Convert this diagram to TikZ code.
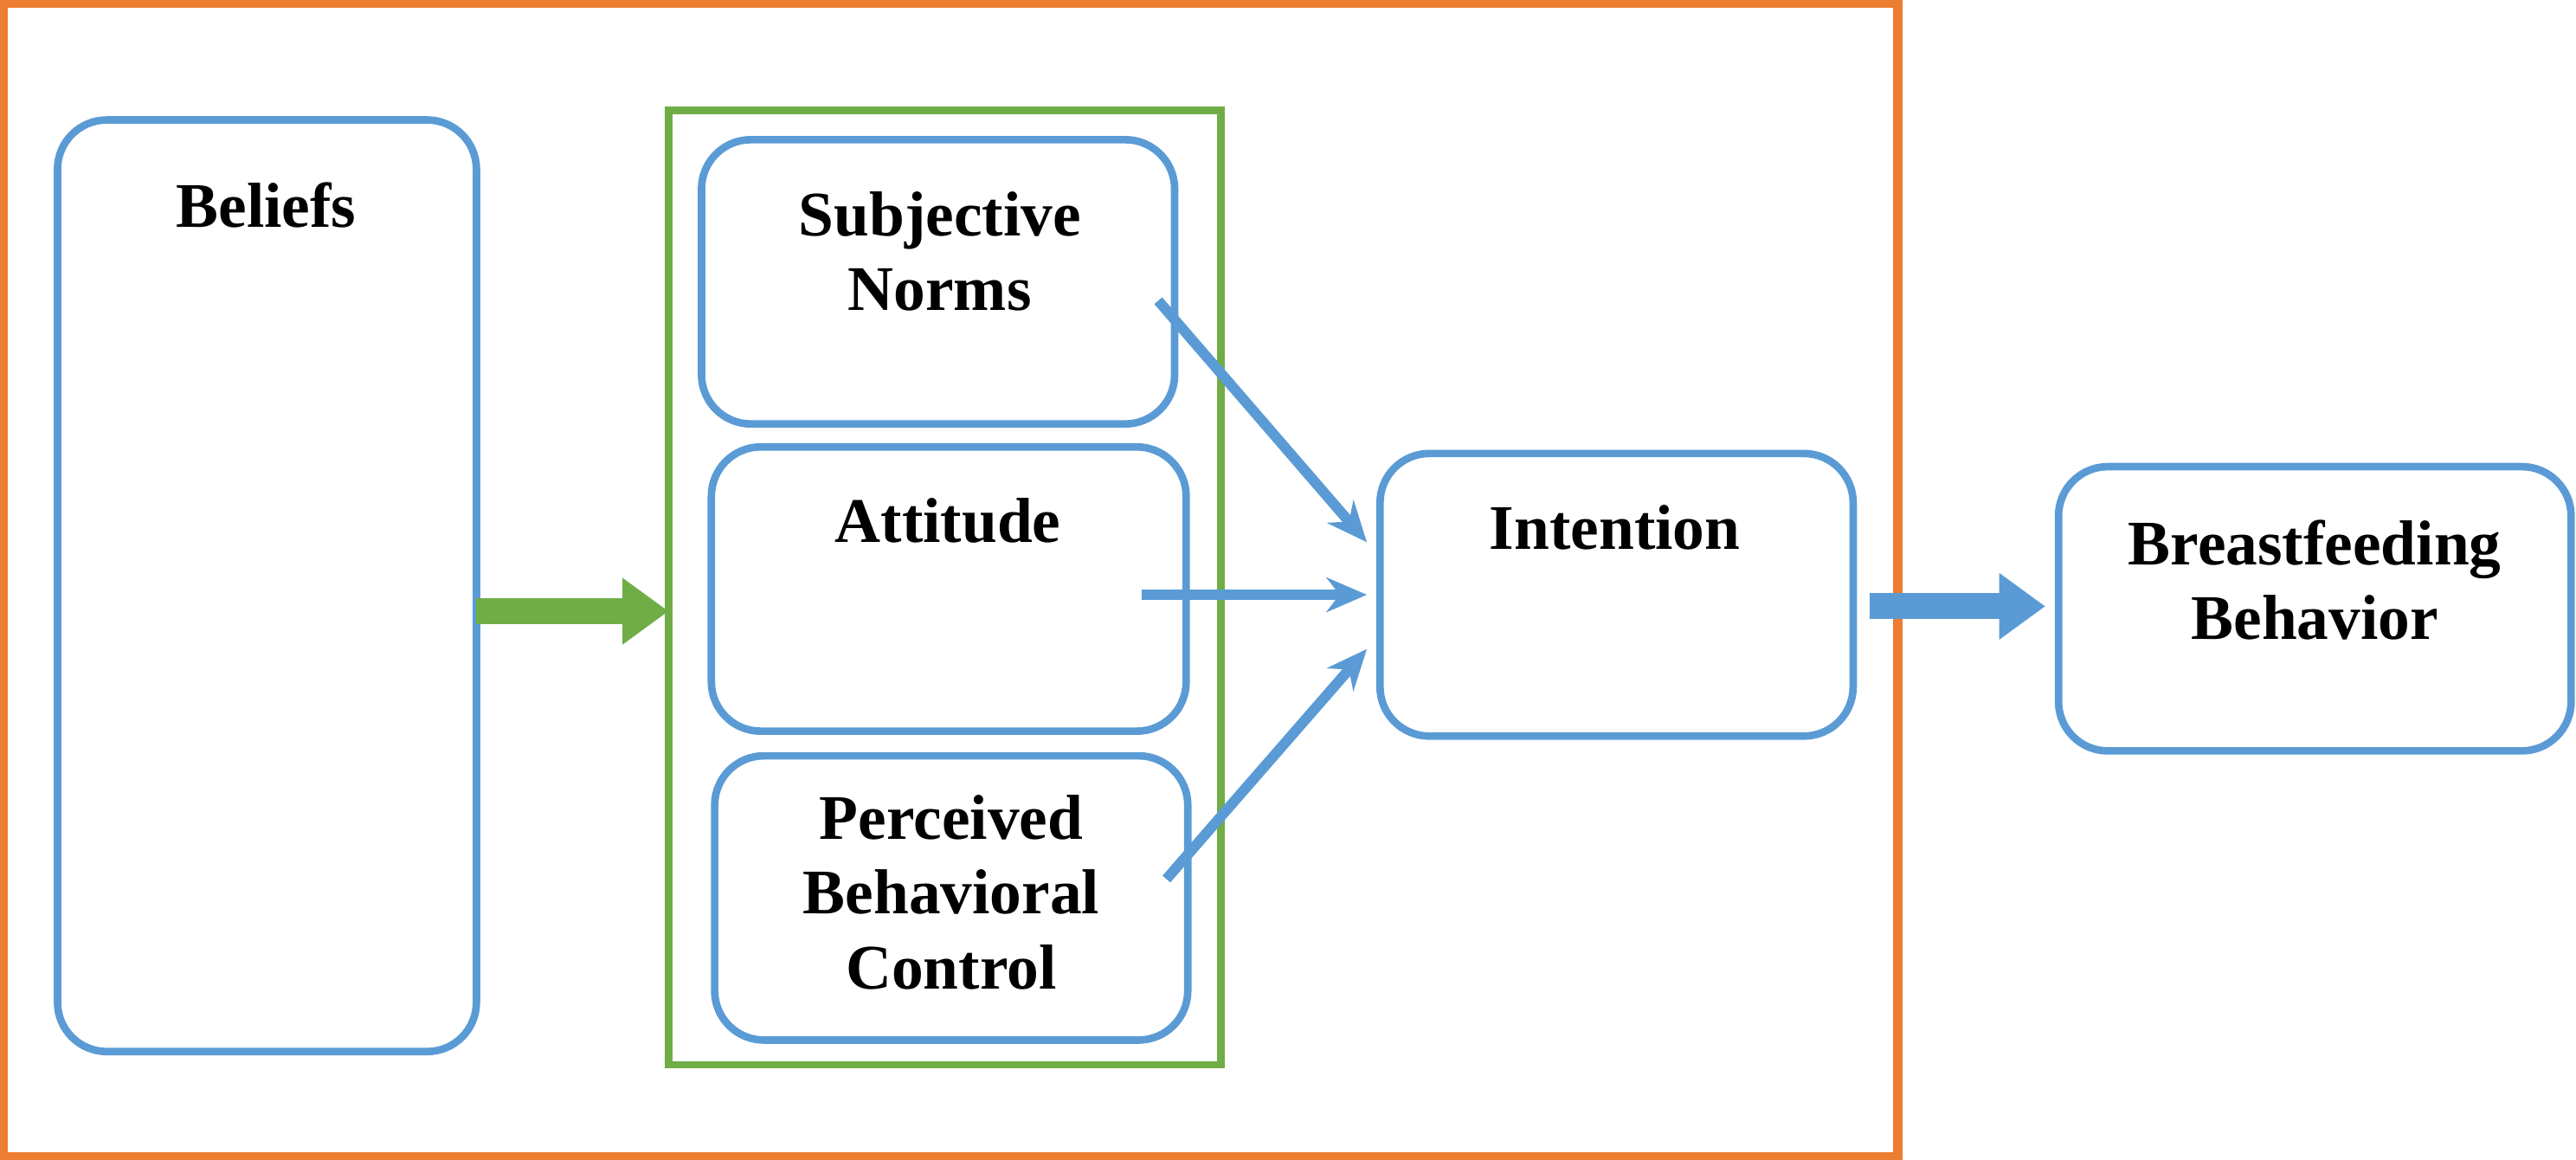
\documentclass[tikz,border=0pt]{standalone}
\usepackage{fontspec}
\setmainfont{Liberation Serif}
\usetikzlibrary{arrows.meta}
\definecolor{boxblue}{RGB}{91,155,213}
\definecolor{boxgreen}{RGB}{112,173,71}
\definecolor{frameorange}{RGB}{237,125,49}
\tikzset{
  box/.style={draw=boxblue, line width=1.3pt, rounded corners=0.3cm},
  lbl/.style={font=\fontsize{11}{13}\selectfont\bfseries, align=center},
  link/.style={draw=boxblue, line width=1.8pt, -{Stealth[length=7pt,width=6pt]}},
  thickarrow/.style={line width=4.5pt, -{Triangle[length=8pt,width=11pt]}},
}
\begin{document}
\begin{tikzpicture}
        \useasboundingbox (0,0) rectangle (15.68,-7.06);

        %Outer frame
        \draw [frameorange, line width=1.6pt] (0.02,-0.02) rectangle (11.55,-7.04);

        %Beliefs
        \draw [box] (0.35,-0.73) rectangle (2.90,-6.40);
        \node [lbl] (beliefs) at (1.62,-1.25) {Beliefs};

        %Construct group
        \draw [boxgreen, line width=1.3pt] (4.07,-0.67) rectangle (7.43,-6.48);
        \draw [box] (4.27,-0.85) rectangle (7.15,-2.58);
        \node [lbl] (norms) at (5.72,-1.53) {Subjective\\Norms};
        \draw [box] (4.33,-2.72) rectangle (7.22,-4.45);
        \node [lbl] (attitude) at (5.77,-3.17) {Attitude};
        \draw [box] (4.35,-4.60) rectangle (7.23,-6.33);
        \node [lbl] (control) at (5.79,-5.43) {Perceived\\Behavioral\\Control};

        %Intention and behaviour
        \draw [box] (8.40,-2.76) rectangle (11.28,-4.48);
        \node [lbl] (intention) at (9.83,-3.21) {Intention};
        \draw [box] (12.53,-2.84) rectangle (15.65,-4.57);
        \node [lbl] (behavior) at (14.09,-3.53) {Breastfeeding\\Behavior};

        %Connectors
        \coordinate (b1) at (2.90,-3.72);
        \coordinate (g1) at (4.07,-3.72);
        \coordinate (n1) at (7.05,-1.83);
        \coordinate (a1) at (6.95,-3.62);
        \coordinate (c1) at (7.10,-5.35);
        \coordinate (i1) at (8.32,-3.30);
        \coordinate (i2) at (8.32,-3.62);
        \coordinate (i3) at (8.32,-3.95);
        \coordinate (i4) at (11.38,-3.69);
        \coordinate (e1) at (12.45,-3.69);

        \draw [boxgreen, thickarrow] (b1) -- (g1);
        \draw [link] (n1) -- (i1);
        \draw [link] (a1) -- (i2);
        \draw [link] (c1) -- (i3);
        \draw [boxblue, thickarrow] (i4) -- (e1);
\end{tikzpicture}
\end{document}
